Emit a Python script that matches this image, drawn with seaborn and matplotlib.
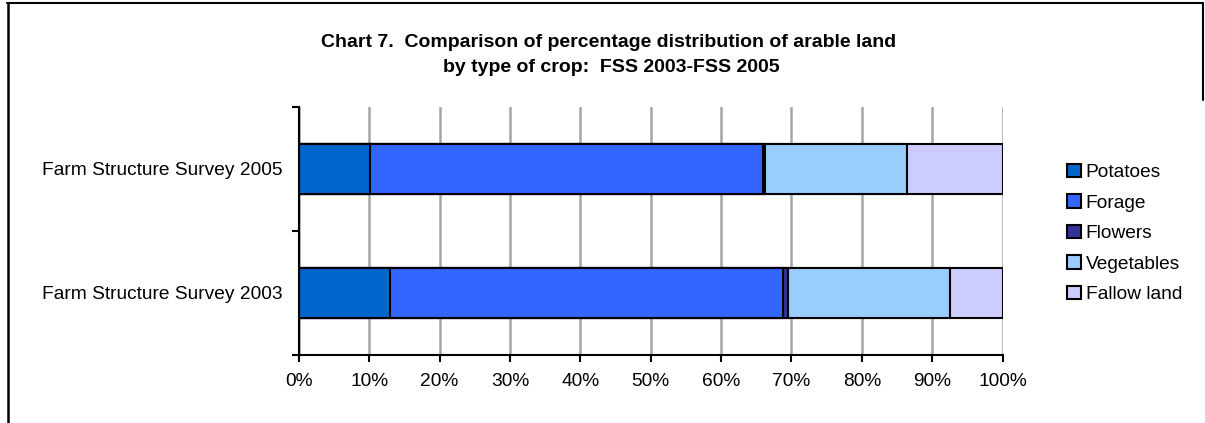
import numpy as np
import pandas as pd
import matplotlib
matplotlib.use("Agg")
from matplotlib import pyplot as plt
from matplotlib.lines import Line2D
import seaborn as sns

surveys = ["Farm Structure Survey 2005", "Farm Structure Survey 2003"]
crops = ["Potatoes", "Forage", "Flowers", "Vegetables", "Fallow land"]
potatoes = [10.1, 13.0]
forage = [55.8, 55.8]
flowers = [0.4, 0.7]
vegetables = [20.1, 23.0]
fallow = [13.6, 7.5]
colors = ["#0066CC", "#3366FF", "#333399", "#99CCFF", "#CCCCFF"]

sns.set_style("white")
plt.rcParams['font.family'] = ['Liberation Sans', 'DejaVu Sans']
plt.rcParams['text.color'] = 'black'
plt.rcParams['xtick.color'] = 'black'
plt.rcParams['ytick.color'] = 'black'

df = pd.DataFrame({"Survey": surveys, "Potatoes": potatoes, "Forage": forage,
                   "Flowers": flowers, "Vegetables": vegetables, "Fallow land": fallow})
cum = df[crops].cumsum(axis=1)
cum["Survey"] = df["Survey"]

fig = plt.figure(figsize=(12.05, 4.23), dpi=100)
ax = fig.add_axes([0.248, 0.161, 0.584, 0.586])

# draw cumulative totals from the last crop to the first so they stack
for crop, col in reversed(list(zip(crops, colors))):
    sns.barplot(data=cum, x=crop, y="Survey", order=surveys, color=col, label=crop,
                saturation=1, width=0.4, edgecolor="black", linewidth=1.5, ax=ax,
                zorder=3, legend=False)

fs = 13.8
ax.set_xlim(0, 100)
ax.set_ylim(1.5, -0.5)
ax.set_xticks(np.arange(0, 101, 10))
ax.set_xticklabels([f"{v}%" for v in range(0, 101, 10)], fontsize=fs)
ax.set_yticks([-0.5, 0.5, 1.5])
ax.set_yticklabels([])
ax.set_yticks([0, 1], minor=True)
ax.set_yticklabels(surveys, minor=True, fontsize=fs)
ax.tick_params(axis="y", which="minor", length=0, pad=12)
ax.tick_params(axis="y", which="major", length=5, width=1.5, direction="out", left=True)
ax.tick_params(axis="x", length=5, width=1.5, direction="out", bottom=True, pad=8)
ax.set_xlabel("")
ax.set_ylabel("")
ax.grid(axis="x", color="#A6A6A6", linewidth=1.8, zorder=0)
ax.set_axisbelow(True)
for s in ["top", "right"]:
    ax.spines[s].set_visible(False)
for s in ["left", "bottom"]:
    ax.spines[s].set_color("black")
    ax.spines[s].set_linewidth(1.5)
    ax.spines[s].set_zorder(4)

handles, labels = ax.get_legend_handles_labels()
handles, labels = handles[::-1], labels[::-1]
if ax.get_legend() is not None:
    ax.get_legend().remove()
leg = fig.legend(handles, labels, loc="center left", bbox_to_anchor=(0.8795, 0.448),
                 frameon=False, fontsize=fs, handlelength=0.7, handleheight=0.7,
                 handletextpad=0.25, labelspacing=0.68, borderaxespad=0)

fig.text(0.505, 0.900, "Chart 7.  Comparison of percentage distribution of arable land",
         ha="center", va="center", fontsize=14, fontweight="bold")
fig.text(0.507, 0.840, "by type of crop:  FSS 2003-FSS 2005",
         ha="center", va="center", fontsize=14, fontweight="bold")

# outer frame like the source document
fig.add_artist(Line2D([7 / 1205, 1203 / 1205], [1 - 3 / 423, 1 - 3 / 423],
                      transform=fig.transFigure, color="black", linewidth=1.5))
fig.add_artist(Line2D([8 / 1205, 8 / 1205], [1 - 3 / 423, 0],
                      transform=fig.transFigure, color="black", linewidth=1.8))
fig.add_artist(Line2D([1203 / 1205, 1203 / 1205], [1 - 3 / 423, 1 - 100 / 423],
                      transform=fig.transFigure, color="black", linewidth=1.5))

fig.savefig("out.png", dpi=100)
